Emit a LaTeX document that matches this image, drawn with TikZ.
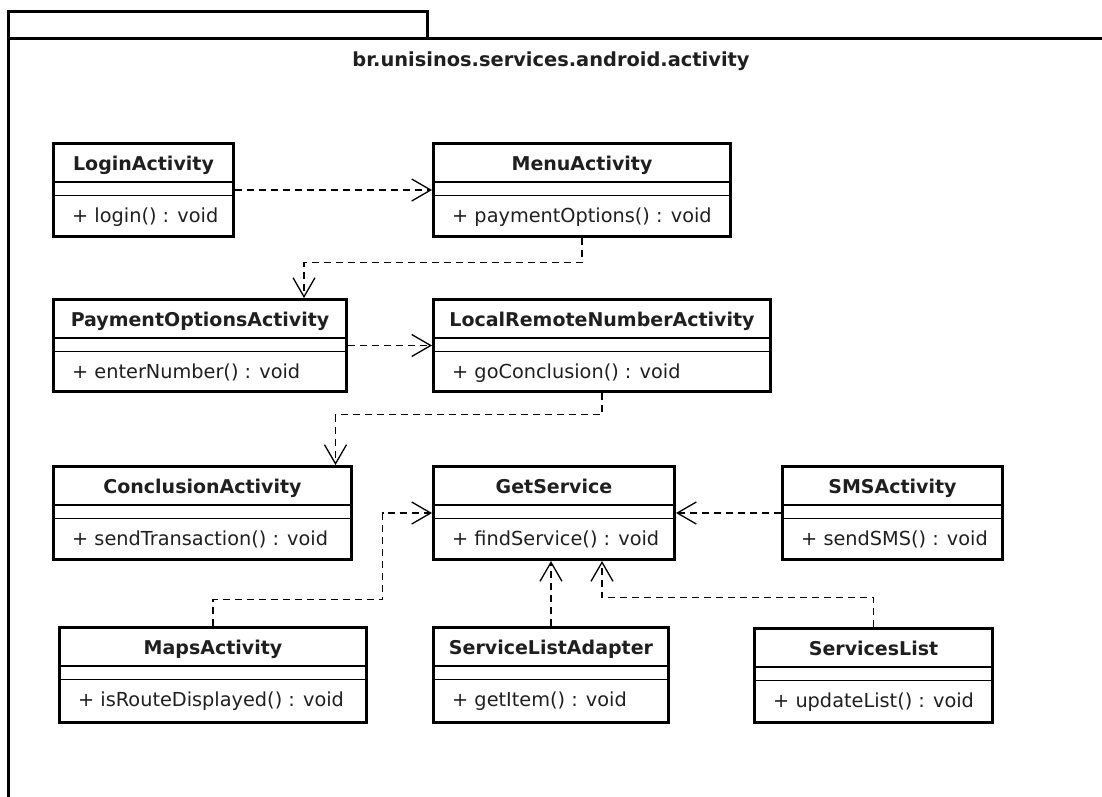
\documentclass[tikz,border=0pt]{standalone}
\usepackage{fontspec}
\setmainfont{DejaVu Sans}
\usetikzlibrary{arrows.meta,calc}

% One UML class box: name, left, top, right, bottom, class name, operation
\newcommand{\umlclass}[7]{%
  \node[classbox, minimum width={#4-#2-3}, minimum height={#5-#3-3}]
    (#1) at ({(#2+#4)/2},{(#3+#5)/2}) {};
  \draw[divider] (#2,#3+40) -- (#4,#3+40);
  \draw[divider] (#2,#3+53.5) -- (#4,#3+53.5);
  \node[titletext] (#1-title) at ({(#2+#4)/2},#3+28) {#6};
  \node[methodtext] (#1-op) at (#2+20,#3+80) {#7};
}

\begin{document}
\begin{tikzpicture}[x=1pt,y=-1pt,
  frame/.style={line width=3pt},
  classbox/.style={draw, line width=3pt, inner sep=0pt},
  divider/.style={line width=1.5pt},
  titletext/.style={font=\fontsize{19}{21}\selectfont\bfseries, inner sep=0pt, anchor=base, text=black!88},
  methodtext/.style={font=\fontsize{19.3}{21}\selectfont, inner sep=0pt, anchor=base west, text=black!88},
  dep/.style={line width=1.3pt, dash pattern=on 7pt off 5pt,
    -{Straight Barb[length=19pt,width=22pt,line width=1.3pt]}},
]
\useasboundingbox (0,0) rectangle (1102,796);

% package frame with its tab
\draw[frame] (8,800) -- (8,11) -- (427,11) -- (427,38);
\draw[frame] (8,38) -- (1106,38);
\node[font=\fontsize{19.4}{21}\selectfont\bfseries, inner sep=0pt, anchor=base, text=black!88] (pkg)
  at (551,66) {br.unisinos.services.android.activity};

% classes
\umlclass{login}{52}{142}{235}{238}{LoginActivity}{+ login() : void}
\umlclass{menu}{432}{142}{732}{238}{MenuActivity}{+ paymentOptions() : void}
\umlclass{pay}{52}{298}{348}{393}{PaymentOptionsActivity}{+ enterNumber() : void}
\umlclass{local}{432}{298}{772}{393}{LocalRemoteNumberActivity}{+ goConclusion() : void}
\umlclass{concl}{52}{465}{353}{561}{ConclusionActivity}{+ sendTransaction() : void}
\umlclass{get}{432}{465}{676}{561}{GetService}{+ findService() : void}
\umlclass{sms}{781}{465}{1004}{561}{SMSActivity}{+ sendSMS() : void}
\umlclass{maps}{58}{626}{368}{724}{MapsActivity}{+ isRouteDisplayed() : void}
\umlclass{adapter}{432}{626}{670}{724}{ServiceListAdapter}{+ getItem() : void}
\umlclass{slist}{753}{627}{994}{724}{ServicesList}{+ updateList() : void}

% dependencies
\draw[dep] (login.east) -- (menu.west);
\draw[dep] (menu.south) -- ++(0,24.5) -| ($(pay.north west)+(252,0)$);
\draw[dep] (pay.east) -- (local.west);
\draw[dep] (local.south) -- ++(0,21.5) -| ($(concl.north west)+(283.5,0)$);
\draw[dep] (maps.north) -- ++(0,-26.5) -| ($(get.west)+(-49.5,0)$) -- (get.west);
\draw[dep] (sms.west) -- (get.east);
\draw[dep] (adapter.north) -- (adapter.north |- get.south);
\draw[dep] (slist.north) -- ++(0,-29.5) -| ($(get.south)+(48,0)$);
\end{tikzpicture}
\end{document}
